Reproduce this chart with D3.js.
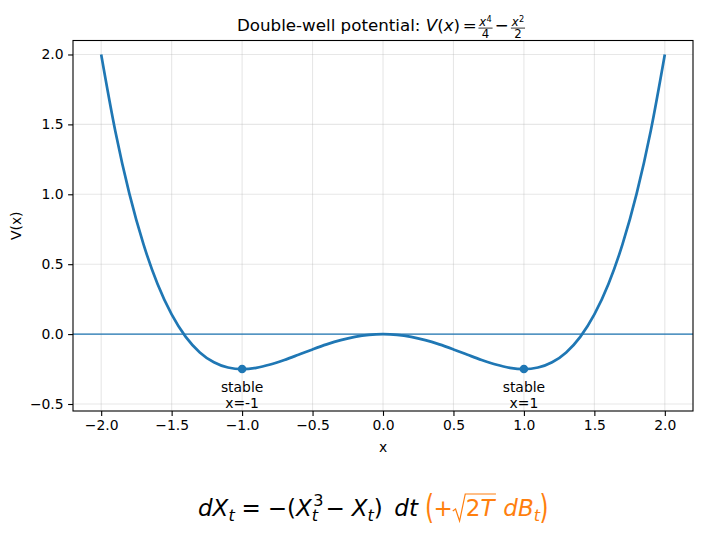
<!DOCTYPE html>
<html><head><meta charset="utf-8">
<script src="https://cdn.jsdelivr.net/npm/d3@7"></script>
<style>body{margin:0;background:#fff}svg{display:block;font-family:"DejaVu Sans",sans-serif}text{white-space:pre}</style>
</head><body>
<svg id="c" width="702" height="538"></svg>
<script>
// ---- data (sampled values of the curve) ----
const xs = [-2.0,-1.9,-1.8,-1.7,-1.6,-1.5,-1.4,-1.3,-1.2,-1.1,-1.0,-0.9,-0.8,-0.7,-0.6,-0.5,-0.4,-0.3,-0.2,-0.1,0.0,
            0.1,0.2,0.3,0.4,0.5,0.6,0.7,0.8,0.9,1.0,1.1,1.2,1.3,1.4,1.5,1.6,1.7,1.8,1.9,2.0];
const Vhalf = [0,-0.004975,-0.0196,-0.042975,-0.0736,-0.109375,-0.1476,-0.184975,-0.2176,-0.240975,-0.25,
               -0.238975,-0.2016,-0.130975,-0.0196,0.140625,0.3584,0.643025,1.0044,1.453025,2.0];
const Vs = [...Vhalf.slice(1).reverse(), ...Vhalf]; // V at xs
const stableX = [-1, 1];
const stableV = [-0.25, -0.25];
const stableLabels = ["x=-1", "x=1"];
const xTicks = [-2.0,-1.5,-1.0,-0.5,0.0,0.5,1.0,1.5,2.0];
const yTicks = [-0.5,0.0,0.5,1.0,1.5,2.0];
const xDomain = [-2.2, 2.2];
const yDomain = [-0.55, 2.1];

const blue = "#1f77b4", orange = "#ff7f0e";
const svg = d3.select("#c");
const L = 73, R = 693, T = 40.5, B = 411;
const x = d3.scaleLinear().domain(xDomain).range([L, R]);
const y = d3.scaleLinear().domain(yDomain).range([B, T]);
const fmt = v => d3.format(".1f")(v).replace("-", "\u2212");

// grid
svg.append("g").selectAll("line").data(xTicks).join("line")
  .attr("x1", d => x(d)).attr("x2", d => x(d)).attr("y1", T).attr("y2", B)
  .attr("stroke", "#b0b0b0").attr("stroke-opacity", 0.3).attr("stroke-width", 1.1);
svg.append("g").selectAll("line").data(yTicks).join("line")
  .attr("y1", d => y(d)).attr("y2", d => y(d)).attr("x1", L).attr("x2", R)
  .attr("stroke", "#b0b0b0").attr("stroke-opacity", 0.3).attr("stroke-width", 1.1);

// axes
const xAxis = d3.axisBottom(x).tickValues(xTicks).tickFormat(fmt).tickSize(4.9).tickPadding(4.5);
const yAxis = d3.axisLeft(y).tickValues(yTicks).tickFormat(fmt).tickSize(4.9).tickPadding(4.5);
const gx = svg.append("g").attr("transform", `translate(0,${B})`).call(xAxis);
const gy = svg.append("g").attr("transform", `translate(${L},0)`).call(yAxis);
[gx, gy].forEach(g => {
  g.select(".domain").remove();
  g.selectAll(".tick line").attr("stroke", "#000").attr("stroke-width", 1.1);
  g.selectAll(".tick text").attr("font-size", 13.9).attr("fill", "#000").attr("font-family", "DejaVu Sans");
});

// zero line
svg.append("line").attr("x1", L).attr("x2", R).attr("y1", y(0)).attr("y2", y(0))
  .attr("stroke", blue).attr("stroke-width", 1.1);

// curve
const line = d3.line().x((d, i) => x(xs[i])).y(d => y(d)).curve(d3.curveMonotoneX);
svg.append("path").datum(Vs).attr("d", line).attr("fill", "none")
  .attr("stroke", blue).attr("stroke-width", 2.7).attr("stroke-linejoin", "round");

// stable points
svg.append("g").selectAll("circle").data(stableX).join("circle")
  .attr("cx", d => x(d)).attr("cy", (d, i) => y(stableV[i])).attr("r", 4.3).attr("fill", blue);
const ann = svg.append("g").selectAll("text").data(stableX).join("text")
  .attr("x", d => x(d)).attr("text-anchor", "middle").attr("font-size", 13.9).attr("fill", "#000");
ann.append("tspan").attr("x", d => x(d)).attr("y", 392).text("stable");
ann.append("tspan").attr("x", d => x(d)).attr("y", 408).text((d, i) => stableLabels[i]);

// spines
svg.append("rect").attr("x", L).attr("y", T).attr("width", R - L).attr("height", B - T)
  .attr("fill", "none").attr("stroke", "#000").attr("stroke-width", 1.1);

// labels
svg.append("text").attr("x", (L + R) / 2).attr("y", 452).attr("text-anchor", "middle")
  .attr("font-size", 13.9).text("x");
svg.append("text").attr("transform", `translate(21,${(T + B) / 2}) rotate(-90)`).attr("text-anchor", "middle")
  .attr("font-size", 13.9).text("V(x)");

// ---- simple math layout helper ----
function put(g, t, xx, yy, size, opts = {}) {
  const n = g.append("text").attr("x", xx).attr("y", yy).attr("font-size", size)
    .attr("font-style", opts.i ? "italic" : "normal").attr("fill", opts.c || "#000").text(t);
  return n.node().getComputedTextLength();
}

// title
(function () {
  const fs = 16.7, base = 30.7;
  const g = svg.append("g");
  let cx = 0;
  cx += put(g, "Double-well potential: ", cx, base, fs);
  cx += put(g, "V", cx, base, fs, { i: 1 });
  cx += put(g, "(", cx, base, fs);
  cx += put(g, "x", cx, base, fs, { i: 1 });
  cx += put(g, ")", cx, base, fs);
  cx += 0.16 * fs;
  cx += put(g, "=", cx, base, fs);
  cx += 0.1 * fs;
  function frac(sup, den) {
    const fsN = 11.7, fsS = 8.2;
    const gg = g.append("g");
    const wx = put(gg, "x", 0, 0, fsN, { i: 1 });
    const ws = put(gg, sup, 0, 0, fsS);
    const wn = wx + 0.5 + ws;
    const wd = put(gg, den, 0, 0, fsN);
    const W = Math.max(wn, wd) + 1.5;
    gg.remove();
    put(g, "x", cx + (W - wn) / 2, base - 4.7, fsN, { i: 1 });
    put(g, sup, cx + (W - wn) / 2 + wx + 0.5, base - 9.0, fsS);
    put(g, den, cx + (W - wd) / 2, base + 7.6, fsN);
    g.append("line").attr("x1", cx).attr("x2", cx + W).attr("y1", base - 2.6).attr("y2", base - 2.6)
      .attr("stroke", "#000").attr("stroke-width", 0.8);
    cx += W;
  }
  frac("4", "4");
  cx += 0.13 * fs;
  cx += put(g, "\u2212", cx, base, fs);
  cx += 0.13 * fs;
  frac("2", "2");
  g.attr("transform", `translate(${381 - cx / 2},0)`);
})();

// bottom formula tokens: [text, italic, role, orange]  role: m main, b sub, p sup(stacked over next sub), d big delimiter
// numbers = weighted spaces
const formulaTokens = [
  ["d",1,"m",0],["X",1,"m",0],["t",1,"b",0], 1, ["=",0,"m",0], 1, ["\u2212",0,"m",0],["(",0,"m",0],
  ["X",1,"m",0],["3",0,"p",0],["t",1,"b",0], 1.1, ["\u2212",0,"m",0], 1, ["X",1,"m",0],["t",1,"b",0],[")",0,"m",0],
  1.7, ["d",1,"m",0],["t",1,"m",0], 1.1, ["(",0,"d",1],["+",0,"m",1],["\u221a",0,"r",1],["2",0,"m",1],["T",1,"m",1],["",0,"e",1],
  1, ["d",1,"m",1],["B",1,"m",1],["t",1,"b",1],[")",0,"d",1]
];
(function () {
  const fs = 23, base = 516, left = 198, right = 548;
  const g = svg.append("g");
  const tmp = svg.append("g");
  const sizeOf = r => (r === "b" || r === "p") ? 0.7 * fs : fs;
  const meas = formulaTokens.map(tk => {
    if (typeof tk === "number") return 0;
    const [t, it, role] = tk;
    if (role === "r") return 13;
    if (role === "e") return 2;
    if (role === "d") return 8;
    return put(tmp, t, 0, 0, sizeOf(role), { i: it });
  });
  tmp.remove();
  let natural = 0, wsum = 0;
  formulaTokens.forEach((tk, k) => {
    if (typeof tk === "number") { wsum += tk; return; }
    if (tk[2] === "p") return;
    natural += meas[k];
  });
  const unit = Math.max(1.5, (right - left - natural) / wsum);
  let cx = left, sqrtStart = 0;
  formulaTokens.forEach((tk, k) => {
    if (typeof tk === "number") { cx += tk * unit; return; }
    const [t, it, role, or] = tk;
    const col = or ? orange : "#000";
    if (role === "d") {
      g.append("text").attr("transform", `translate(${cx + 4},508) scale(1,1.45)`)
        .attr("x", 0).attr("y", 0.315 * fs).attr("font-size", fs).attr("text-anchor", "middle")
        .attr("fill", col).text(t);
      cx += meas[k]; return;
    }
    if (role === "r") { sqrtStart = cx; cx += meas[k]; return; }
    if (role === "e") {
      const sx = sqrtStart, top = 494;
      g.append("path").attr("d", `M${sx},511 L${sx + 2.8},509 L${sx + 6.8},521 L${sx + 12.5},${top} L${cx + 1.5},${top}`)
        .attr("fill", "none").attr("stroke", col).attr("stroke-width", 1.2).attr("stroke-linejoin", "miter");
      cx += meas[k]; return;
    }
    const yy = role === "b" ? base + 4.8 : role === "p" ? base - 10 : base;
    put(g, t, role === "p" ? cx + 1.5 : cx, yy, sizeOf(role), { i: it, c: col });
    if (role !== "p") cx += meas[k];
  });
})();
</script>
</body></html>
